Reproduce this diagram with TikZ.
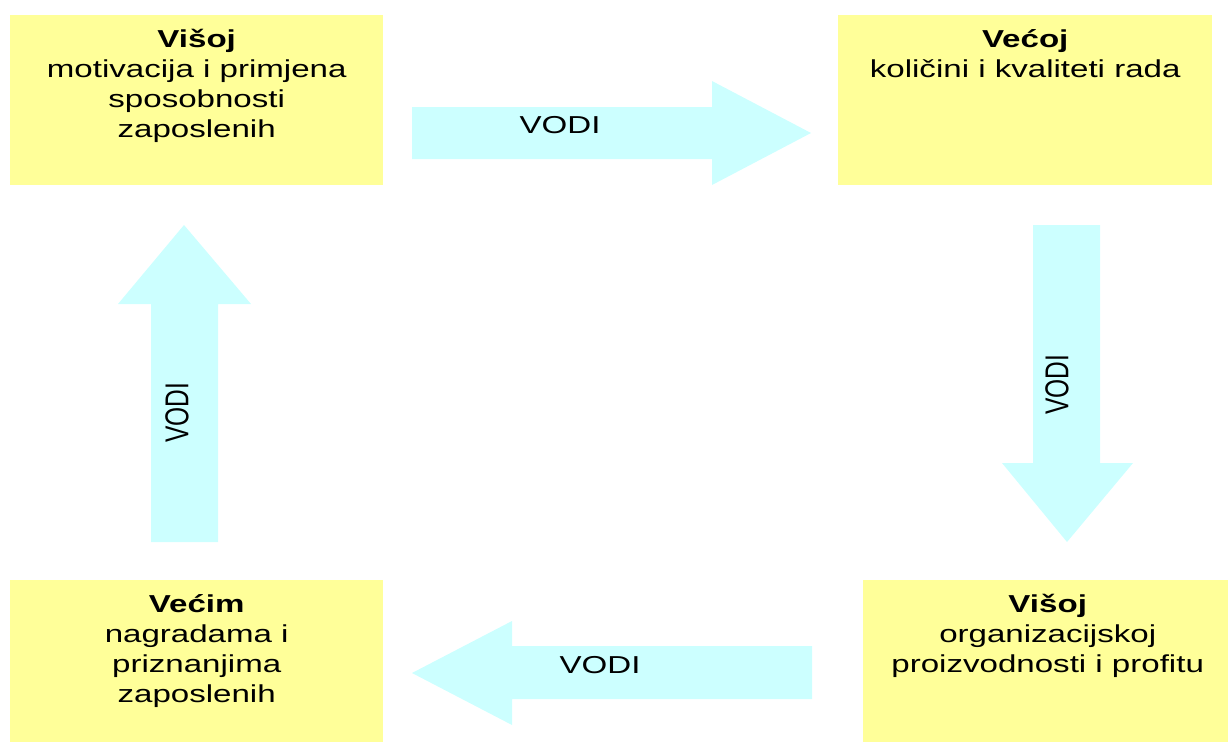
\documentclass[tikz,border=0pt]{standalone}
\usepackage{fontspec}
\usepackage{graphicx}
\setmainfont[FakeStretch=1.35]{Liberation Sans}
\newfontfamily\plainsans{Liberation Sans}
\definecolor{boxyellow}{HTML}{FFFF99}
\definecolor{arrowcyan}{HTML}{CCFFFF}
\begin{document}
\begin{tikzpicture}[x=1pt,y=-1pt,
  box/.style={fill=boxyellow, draw=none, inner sep=0pt, anchor=north west},
  boxtext/.style={anchor=north, inner sep=0pt, align=center,
    font=\fontsize{24.5}{30}\selectfont},
  bigarrow/.style={fill=arrowcyan, draw=none},
  lbl/.style={inner sep=0pt, font=\fontsize{24.5}{30}\selectfont}]
\useasboundingbox (0,0) rectangle (1228,742);
% boxes
\node[box, minimum width=373pt, minimum height=170pt] (tl) at (10,15) {};
\node[box, minimum width=374pt, minimum height=170pt] (tr) at (838,15) {};
\node[box, minimum width=373pt, minimum height=162pt] (bl) at (10,580) {};
\node[box, minimum width=365pt, minimum height=162pt] (br) at (863,580) {};
% texts
\node[boxtext] (tlt) at ([yshift=-11pt]tl.north) {\strut\textbf{Višoj}\\motivacija i primjena\\sposobnosti\\zaposlenih};
\node[boxtext] (trt) at ([yshift=-11pt]tr.north) {\strut\textbf{Većoj}\\količini i kvaliteti rada};
\node[boxtext] (blt) at ([yshift=-11pt]bl.north) {\strut\textbf{Većim}\\nagradama i\\priznanjima\\zaposlenih};
\node[boxtext] (brt) at ([xshift=2pt,yshift=-11pt]br.north) {\strut\textbf{Višoj}\\organizacijskoj\\proizvodnosti i profitu};
% arrows
\fill[bigarrow] (412,107) -- (712,107) -- (712,81) -- (811,133) -- (712,185) -- (712,159) -- (412,159) -- cycle;
\fill[bigarrow] (1033,225) -- (1100,225) -- (1100,463) -- (1133,463) -- (1067,542) -- (1002,463) -- (1033,463) -- cycle;
\fill[bigarrow] (812,646) -- (512,646) -- (512,621) -- (412,673) -- (512,725) -- (512,699) -- (812,699) -- cycle;
\fill[bigarrow] (151,542) -- (151,304) -- (118,304) -- (184,225) -- (251,304) -- (218,304) -- (218,542) -- cycle;
% labels
\node[lbl] (l1) at (560,125) {VODI};
\node[lbl] (l3) at (600,665) {VODI};
\node[lbl] (l2) at (1057,385) {\scalebox{1.35}[1]{\rotatebox{90}{\plainsans VODI}}};
\node[lbl] (l4) at (177,413) {\scalebox{1.35}[1]{\rotatebox{90}{\plainsans VODI}}};
\end{tikzpicture}
\end{document}
